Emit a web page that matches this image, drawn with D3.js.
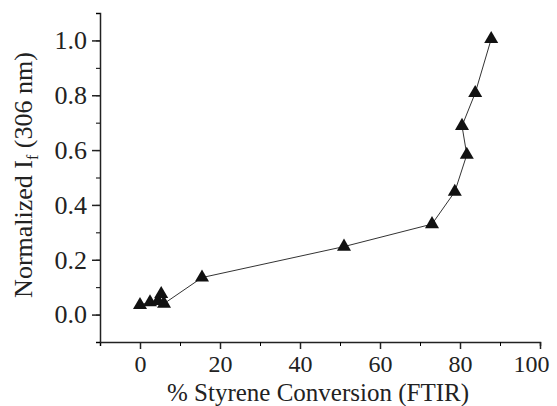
<!DOCTYPE html>
<html>
<head>
<meta charset="utf-8">
<script src="https://cdn.jsdelivr.net/npm/d3@7"></script>
<style>
  body { margin: 0; background: #fff; }
  text { font-family: "Liberation Serif", "Times New Roman", serif; fill: #222; }
</style>
</head>
<body>
<svg id="chart"></svg>
<script>
const conversion = [0, 2.5, 4.5, 5.3, 6, 15.5, 51, 73, 78.7, 81.7, 80.5, 83.8, 87.8];
const intensity = [0.035, 0.045, 0.05, 0.075, 0.04, 0.135, 0.248, 0.33, 0.448, 0.583, 0.688, 0.808, 1.005];
const xTicks = [0, 20, 40, 60, 80, 100];
const yTicks = [0.0, 0.2, 0.4, 0.6, 0.8, 1.0];

const width = 557, height = 406;
const margin = { top: 13, right: 17, bottom: 64, left: 100 };

const svg = d3.select("#chart").attr("width", width).attr("height", height);

const x = d3.scaleLinear().domain([-10, 100]).range([margin.left, width - margin.right]);
const y = d3.scaleLinear().domain([-0.1, 1.1]).range([height - margin.bottom, margin.top]);

// x axis with major and minor ticks
svg.append("g")
  .attr("transform", `translate(0,${y(-0.1)})`)
  .call(d3.axisBottom(x).tickValues(d3.range(-10, 101, 10)).tickSize(4).tickFormat(""))
  .call(g => g.select(".domain").attr("stroke", "#222").attr("stroke-width", 1.5));

const xAxis = svg.append("g")
  .attr("transform", `translate(0,${y(-0.1)})`)
  .call(d3.axisBottom(x).tickValues(xTicks).tickSize(7).tickPadding(6).tickFormat(d3.format("d")));
xAxis.select(".domain").remove();
xAxis.selectAll("line").attr("stroke", "#222").attr("stroke-width", 1.5);
xAxis.selectAll("text").attr("font-size", 24).attr("fill", "#222");
// last label sits a little left so it stays inside the frame
xAxis.selectAll("text").filter(d => d === 100).attr("dx", -9);

// y axis with major and minor ticks
svg.append("g")
  .attr("transform", `translate(${x(-10)},0)`)
  .call(d3.axisLeft(y).tickValues(d3.range(-1, 12).map(d => d / 10)).tickSize(4).tickFormat(""))
  .call(g => g.select(".domain").attr("stroke", "#222").attr("stroke-width", 1.5));

const yAxis = svg.append("g")
  .attr("transform", `translate(${x(-10)},0)`)
  .call(d3.axisLeft(y).tickValues(yTicks).tickSize(8).tickPadding(5).tickFormat(d3.format(".1f")));
yAxis.select(".domain").remove();
yAxis.selectAll("line").attr("stroke", "#222").attr("stroke-width", 1.5);
yAxis.selectAll("text").attr("font-size", 26).attr("fill", "#222");

// connecting line
const pts = conversion.map((c, i) => [c, intensity[i]]);
svg.append("path")
  .datum(pts)
  .attr("fill", "none")
  .attr("stroke", "#333")
  .attr("stroke-width", 1)
  .attr("d", d3.line().x(d => x(d[0])).y(d => y(d[1])));

// triangle markers
svg.selectAll(".pt")
  .data(pts)
  .join("path")
  .attr("class", "pt")
  .attr("transform", d => `translate(${x(d[0])},${y(d[1])})`)
  .attr("d", d3.symbol(d3.symbolTriangle, 85))
  .attr("fill", "#111");

// axis titles
svg.append("text")
  .attr("x", 318)
  .attr("y", 400.5)
  .attr("text-anchor", "middle")
  .attr("font-size", 25)
  .text("% Styrene Conversion (FTIR)");

const yt = svg.append("text")
  .attr("transform", "translate(32,175) rotate(-90)")
  .attr("text-anchor", "middle")
  .attr("font-size", 26);
yt.append("tspan").text("Normalized I");
yt.append("tspan").attr("font-size", 16).attr("dy", 6).text("f");
yt.append("tspan").attr("dy", -6).text(" (306 nm)");
</script>
</body>
</html>
